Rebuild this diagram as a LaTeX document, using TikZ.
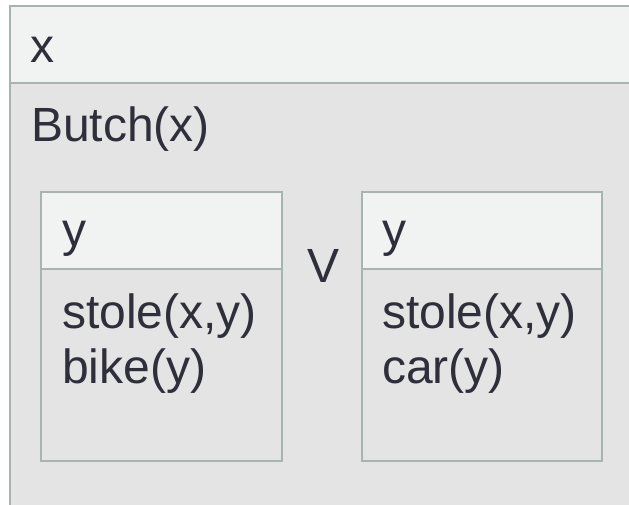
\documentclass[tikz,border=0pt]{standalone}
\usepackage{fontspec}
\setmainfont{Liberation Sans}
\definecolor{edge}{HTML}{A8B4AE}
\definecolor{headfill}{HTML}{F1F2F2}
\definecolor{bodyfill}{HTML}{E3E4E3}
\definecolor{ink}{HTML}{2F2F3B}
\begin{document}
\begin{tikzpicture}[x=1pt,y=-1pt,
  txt/.style={anchor=base west, inner sep=0pt, outer sep=0pt, text=ink, font=\fontsize{48}{55}\selectfont},
  frame/.style={draw=edge, line width=2.2pt},
  headarea/.style={fill=headfill},
  bodyarea/.style={fill=bodyfill}]
\useasboundingbox (0,0) rectangle (629,505);
\begin{scope}
  \clip (0,0) rectangle (629,505);
  \path[bodyarea] (10,6) rectangle (660,540);
  \path[headarea] (10,6) rectangle (660,83);
  \draw[frame] (10,540) -- (10,6) -- (660,6);
  \draw[frame] (10,83) -- (660,83);
\end{scope}
% left inner box
\path[bodyarea] (41,192) rectangle (282,461);
\path[headarea] (41,192) rectangle (282,269);
\draw[frame] (41,192) rectangle (282,461);
\draw[frame] (41,269) -- (282,269);
% right inner box
\path[bodyarea] (362,192) rectangle (602,461);
\path[headarea] (362,192) rectangle (602,269);
\draw[frame] (362,192) rectangle (602,461);
\draw[frame] (362,269) -- (602,269);
% texts
\node[txt] (x) at (30,63) {x};
\node[txt] (butch) at (31,142) {Butch(x)};
\node[txt] (y1) at (62,247) {y};
\node[txt] (s1) at (62,328) {stole(x,y)};
\node[txt] (b1) at (62,383) {bike(y)};
\node[txt] (v) at (307,282) {V};
\node[txt] (y2) at (382,247) {y};
\node[txt] (s2) at (382,328) {stole(x,y)};
\node[txt] (c2) at (382,383) {car(y)};
\end{tikzpicture}
\end{document}
